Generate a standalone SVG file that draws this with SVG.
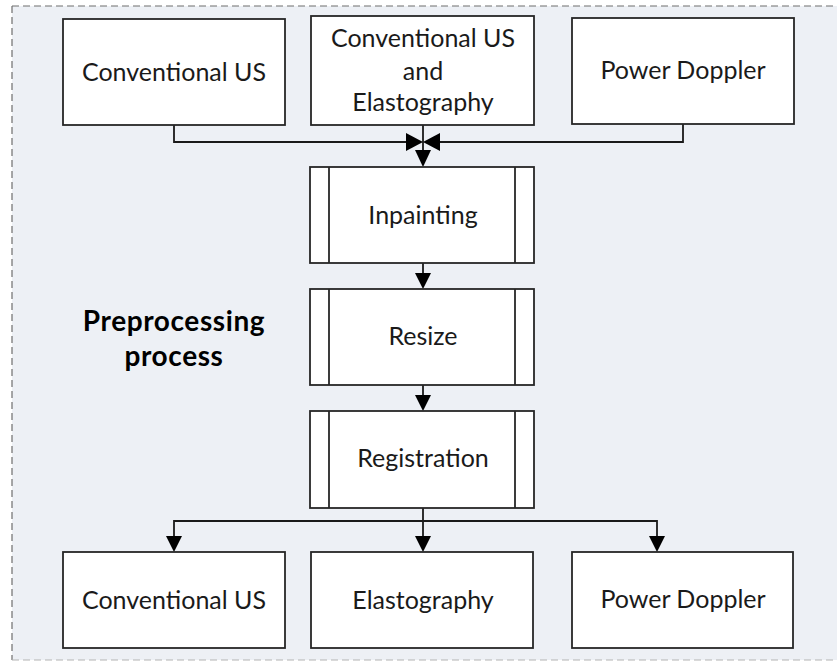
<svg xmlns="http://www.w3.org/2000/svg" width="837" height="661" viewBox="0 0 837 661">
  <defs>
    <style>
      .box { fill: #ffffff; stroke: #262626; stroke-width: 1.8; }
      .bar { fill: none; stroke: #262626; stroke-width: 1.8; }
      .lbl { font-family: Lato, "Liberation Sans", sans-serif; font-size: 25px; fill: #1a1a1a; text-anchor: middle; }
      .title { font-family: Lato, "Liberation Sans", sans-serif; font-size: 28px; font-weight: bold; fill: #000000; text-anchor: middle; letter-spacing: 0.6px; }
      .wire { fill: none; stroke: #1a1a1a; stroke-width: 1.8; }
      .head { fill: #000000; }
    </style>
  </defs>

  <!-- panel background with dashed frame -->
  <rect x="0" y="0" width="837" height="661" fill="#ffffff"/>
  <rect x="12" y="6" width="825" height="654" fill="#edf0f5"/>
  <line x1="12" y1="6" x2="837" y2="6" stroke="#6e6e6e" stroke-width="1.2" stroke-dasharray="7,4"/>
  <line x1="12" y1="6" x2="12" y2="660" stroke="#6e6e6e" stroke-width="1.2" stroke-dasharray="7,4"/>
  <line x1="12" y1="660" x2="837" y2="660" stroke="#b4b4b4" stroke-width="1.2" stroke-dasharray="7,4"/>

  <text class="title" x="174" y="331">Preprocessing</text>
  <text class="title" x="174" y="366">process</text>

  <!-- connectors -->
  <g id="connectors">
    <polyline class="wire" points="174,125 174,142 407,142"/>
    <polyline class="wire" points="683,124 683,142 438,142"/>
    <line class="wire" x1="423" y1="125" x2="423" y2="152"/>
    <polygon class="head" points="406,133 423,142 406,151"/>
    <polygon class="head" points="440,133 423,142 440,151"/>
    <polygon class="head" points="415,150 431,150 423,167"/>

    <line class="wire" x1="423" y1="263" x2="423" y2="274"/>
    <polygon class="head" points="415,273 431,273 423,289"/>

    <line class="wire" x1="423" y1="385" x2="423" y2="396"/>
    <polygon class="head" points="415,395 431,395 423,411"/>

    <line class="wire" x1="423" y1="508" x2="423" y2="537"/>
    <polyline class="wire" points="174,537 174,521 657,521 657,537"/>
    <polygon class="head" points="166,536 182,536 174,552"/>
    <polygon class="head" points="415,536 431,536 423,552"/>
    <polygon class="head" points="649,536 665,536 657,552"/>
  </g>

  <!-- input sources -->
  <g id="in-conventional-us">
    <rect class="box" x="63" y="19" width="222" height="106"/>
    <text class="lbl" x="174" y="81">Conventional US</text>
  </g>
  <g id="in-us-elastography">
    <rect class="box" x="311" y="16" width="223" height="109"/>
    <text class="lbl" x="423" y="47">Conventional US</text>
    <text class="lbl" x="423" y="80">and</text>
    <text class="lbl" x="423" y="111">Elastography</text>
  </g>
  <g id="in-power-doppler">
    <rect class="box" x="572" y="18" width="222" height="106"/>
    <text class="lbl" x="683" y="79">Power Doppler</text>
  </g>

  <!-- processing steps -->
  <g id="step-inpainting">
    <rect class="box" x="310" y="167" width="224" height="96"/>
    <line class="bar" x1="329" y1="167" x2="329" y2="263"/>
    <line class="bar" x1="515" y1="167" x2="515" y2="263"/>
    <text class="lbl" x="423" y="224">Inpainting</text>
  </g>
  <g id="step-resize">
    <rect class="box" x="310" y="289" width="224" height="96"/>
    <line class="bar" x1="329" y1="289" x2="329" y2="385"/>
    <line class="bar" x1="515" y1="289" x2="515" y2="385"/>
    <text class="lbl" x="423" y="345">Resize</text>
  </g>
  <g id="step-registration">
    <rect class="box" x="310" y="411" width="224" height="97"/>
    <line class="bar" x1="329" y1="411" x2="329" y2="508"/>
    <line class="bar" x1="515" y1="411" x2="515" y2="508"/>
    <text class="lbl" x="423" y="467">Registration</text>
  </g>

  <!-- outputs -->
  <g id="out-conventional-us">
    <rect class="box" x="63" y="552" width="222" height="96"/>
    <text class="lbl" x="174" y="609">Conventional US</text>
  </g>
  <g id="out-elastography">
    <rect class="box" x="311" y="552" width="222" height="96"/>
    <text class="lbl" x="423" y="609">Elastography</text>
  </g>
  <g id="out-power-doppler">
    <rect class="box" x="572" y="552" width="221" height="96"/>
    <text class="lbl" x="683" y="608">Power Doppler</text>
  </g>
</svg>
